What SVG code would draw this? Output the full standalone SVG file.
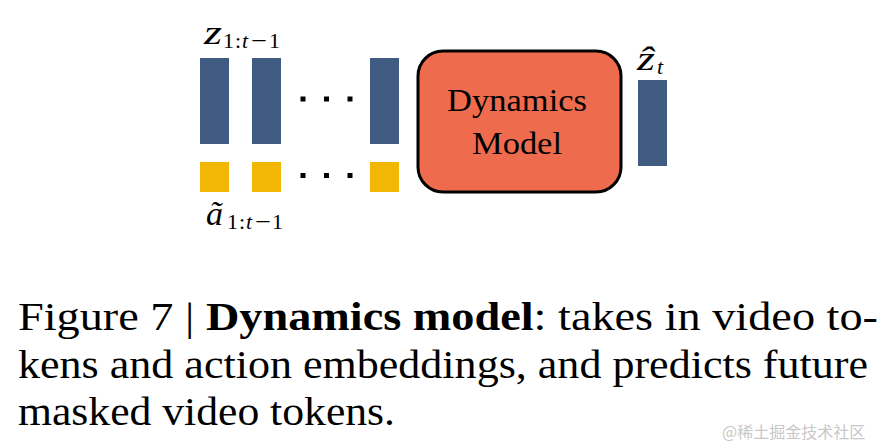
<svg xmlns="http://www.w3.org/2000/svg" width="888" height="448" viewBox="0 0 888 448">
<style>
.tok{fill:#3F5B82}
.act{fill:#F2B705}
.dot{fill:#000}
.m{font-family:'Liberation Serif','Times New Roman',Times,serif;font-style:italic;font-size:33px;fill:#000}
.s{font-family:'Liberation Serif','Times New Roman',Times,serif;font-size:22px;fill:#000}
.si{font-family:'Liberation Serif','Times New Roman',Times,serif;font-size:22px;font-style:italic;fill:#000}
.box{fill:#EE6C4D;stroke:#000;stroke-width:3}
.lbl{font-family:'Liberation Serif','Times New Roman',Times,serif;font-size:31px;fill:#000;text-anchor:middle}
.cap{font-family:'Liberation Serif','Times New Roman',Times,serif;font-size:39px;fill:#000}
</style>
<rect width="888" height="448" fill="#fff"/>
<g id="video-tokens">
<rect class="tok" x="200" y="58" width="29" height="86"/>
<rect class="tok" x="252" y="58" width="29" height="86"/>
<rect class="tok" x="370" y="58" width="29" height="86"/>
<rect class="dot" x="300.5" y="96.5" width="5" height="5"/>
<rect class="dot" x="324" y="96.5" width="5" height="5"/>
<rect class="dot" x="347.5" y="96.5" width="5" height="5"/>
<text x="204" y="43.5" class="m" textLength="18" lengthAdjust="spacingAndGlyphs">z</text>
<text x="223" y="47.5" class="s">1</text>
<text x="235" y="47.5" class="s">:</text>
<text x="242" y="47.5" class="si">t</text>
<text x="251" y="47.5" class="s" textLength="16" lengthAdjust="spacingAndGlyphs">−</text>
<text x="269" y="47.5" class="s">1</text>
</g>
<g id="action-embeddings">
<rect class="act" x="200" y="162" width="29" height="30"/>
<rect class="act" x="252" y="162" width="29" height="30"/>
<rect class="act" x="370" y="162" width="29" height="30"/>
<rect class="dot" x="300.5" y="173" width="5" height="5"/>
<rect class="dot" x="324" y="173" width="5" height="5"/>
<rect class="dot" x="347.5" y="173" width="5" height="5"/>
<text x="206" y="224.5" class="m" textLength="17" lengthAdjust="spacingAndGlyphs">ã</text>
<text x="227" y="228.5" class="s">1</text>
<text x="239" y="228.5" class="s">:</text>
<text x="246" y="228.5" class="si">t</text>
<text x="255" y="228.5" class="s" textLength="16" lengthAdjust="spacingAndGlyphs">−</text>
<text x="272" y="228.5" class="s">1</text>
</g>
<g id="dynamics-model">
<rect class="box" x="418" y="51" width="203" height="141" rx="25" ry="25"/>
<text x="517" y="111" class="lbl" textLength="140" lengthAdjust="spacingAndGlyphs">Dynamics</text>
<text x="517" y="154" class="lbl" textLength="90" lengthAdjust="spacingAndGlyphs">Model</text>
</g>
<g id="predicted-token">
<rect class="tok" x="638" y="80" width="29" height="86"/>
<text x="637" y="70" class="m" textLength="18" lengthAdjust="spacingAndGlyphs">ẑ</text>
<text x="657" y="74" class="si">t</text>
</g>
<g id="connectors"></g>
<g id="caption">
<text x="18" y="330" class="cap" textLength="860" lengthAdjust="spacingAndGlyphs">Figure 7 | <tspan font-weight="bold">Dynamics model</tspan>: takes in video to-</text>
<text x="18" y="378" class="cap" textLength="850" lengthAdjust="spacingAndGlyphs">kens and action embeddings, and predicts future</text>
<text x="18" y="425" class="cap" textLength="377" lengthAdjust="spacingAndGlyphs">masked video tokens.</text>
</g>
<text x="722" y="438" font-family="'Noto Sans CJK SC', sans-serif" font-size="16" fill="#c8c8c8">@稀土掘金技术社区</text>
</svg>
